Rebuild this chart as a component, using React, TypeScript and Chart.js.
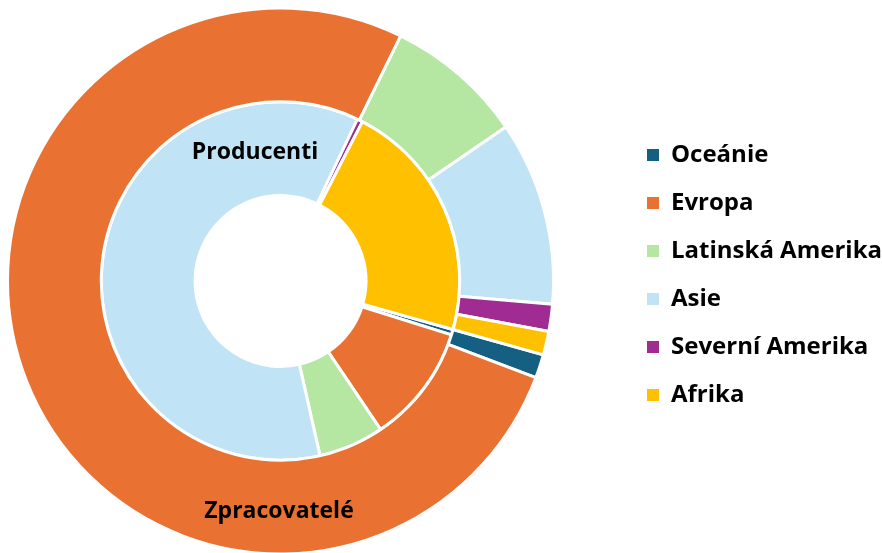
import React, { useEffect, useRef } from 'react';
import { Chart, registerables } from 'chart.js';

Chart.register(...registerables);

const categories = ['Oceánie', 'Evropa', 'Latinská Amerika', 'Asie', 'Severní Amerika', 'Afrika'];
const colors = ['#156082', '#E97132', '#B5E6A2', '#C0E4F5', '#A02B93', '#FFC000'];
const zpracovatele = [1.4, 76.5, 8.2, 10.9, 1.6, 1.4];
const producenti = [0.5, 10.7, 5.9, 60.6, 0.5, 21.8];
const ringTitles = ['Zpracovatelé', 'Producenti'];

const FONT = '"Open Sans", "DejaVu Sans", sans-serif';

const fixedLayout = {
  id: 'fixedLayout',
  afterLayout(chart: any) {
    const ca = chart.chartArea;
    ca.left = 6;
    ca.right = 555;
    ca.top = 6.5;
    ca.bottom = 555.5;
    ca.width = ca.right - ca.left;
    ca.height = ca.bottom - ca.top;
    const lg = chart.legend;
    if (lg) {
      const w = lg.width;
      lg.left = 623;
      lg.right = 623 + w;
      lg.top = 119;
      lg.bottom = 553;
      lg.height = lg.bottom - lg.top;
    }
  },
};

const ringTitlePlugin = {
  id: 'ringTitles',
  afterDatasetsDraw(chart: any) {
    const arc = chart.getDatasetMeta(0).data[0];
    if (!arc) return;
    const { x, y } = arc;
    const ctx = chart.ctx;
    ctx.save();
    ctx.font = `bold 23px ${FONT}`;
    ctx.fillStyle = '#000';
    ctx.textAlign = 'center';
    ctx.textBaseline = 'alphabetic';
    ctx.fillText(ringTitles[1], x - 25.5, y - 121.7);
    ctx.fillText(ringTitles[0], x - 1.5, y + 237.3);
    ctx.restore();
  },
};

export default function App() {
  const ref = useRef<HTMLCanvasElement>(null);
  useEffect(() => {
    if (!ref.current) return;
    const baseGen = (Chart as any).overrides.doughnut.plugins.legend.labels.generateLabels;
    const chart = new Chart(ref.current, {
      type: 'doughnut',
      data: {
        labels: categories,
        datasets: [
          { label: ringTitles[0], data: zpracovatele, backgroundColor: colors, borderColor: '#ffffff', borderWidth: 3, hoverOffset: 0 },
          { label: ringTitles[1], data: producenti, backgroundColor: colors, borderColor: '#ffffff', borderWidth: 3, hoverOffset: 0 },
        ],
      },
      options: {
        animation: false,
        responsive: false,
        events: [],
        cutout: '31.3%',
        rotation: 105.7,
        plugins: {
          tooltip: { enabled: false },
          legend: {
            position: 'right',
            align: 'start',
            labels: {
              font: { family: FONT, size: 24, weight: 'bold' },
              color: '#000000',
              boxWidth: 12,
              boxHeight: 12,
              padding: 24,
              generateLabels: (c: any) => baseGen(c).map((l: any) => ({ ...l, lineWidth: 0 })),
            },
          },
        },
      } as any,
      plugins: [fixedLayout, ringTitlePlugin],
    });
    return () => chart.destroy();
  }, []);
  return (
    <div style={{ position: 'fixed', left: 0, top: 0, width: 882, height: 553, background: '#fff' }}>
      <canvas ref={ref} width={882} height={553} style={{ display: 'block' }} />
    </div>
  );
}
